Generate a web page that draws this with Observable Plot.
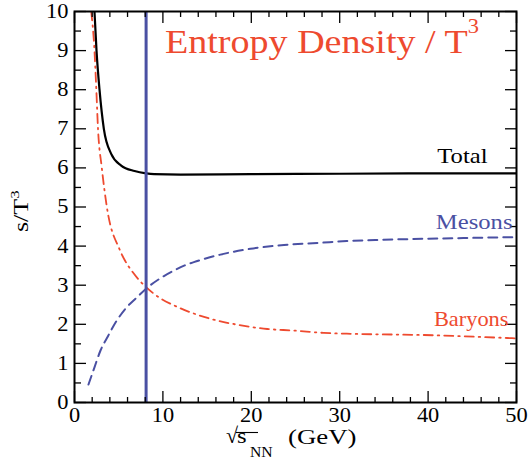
<!DOCTYPE html>
<html><head><meta charset="utf-8">
<script src="https://cdn.jsdelivr.net/npm/d3@7"></script>
<script src="https://cdn.jsdelivr.net/npm/@observablehq/plot@0.6"></script>
<style>body{margin:0;background:#fff} svg{display:block}</style>
</head><body><div id="chart"></div>
<script>
// ---- data ----
const totalX   = [2.26, 2.49, 2.83, 3.32, 4.15, 5.28, 6.79, 8.1, 9.0, 12, 20, 30, 40, 50];
const totalY   = [10.0, 9.0, 8.0, 7.0, 6.36, 6.06, 5.92, 5.86, 5.84, 5.83, 5.84, 5.85, 5.86, 5.86];
const mesonX   = [1.58, 2.26, 2.94, 3.77, 4.71, 5.85, 7.16, 8.1, 9.8, 11.3, 12.4, 13.5, 16.1, 19.9, 23.7, 27.5, 30.8, 34.6, 40, 45, 50];
const mesonY   = [0.46, 0.90, 1.33, 1.69, 2.07, 2.42, 2.71, 2.91, 3.19, 3.38, 3.50, 3.59, 3.76, 3.93, 4.03, 4.08, 4.13, 4.16, 4.19, 4.21, 4.23];
const baryonX  = [1.89, 2.26, 2.45, 2.66, 3.09, 3.66, 5.09, 5.66, 6.6, 7.35, 8.1, 9.6, 11.3, 12.4, 15.4, 18.4, 21.8, 24.8, 28.2, 30.8, 40.6, 48.9, 50];
const baryonY  = [10.0, 9.0, 8.1, 7.0, 6.0, 5.0, 3.92, 3.65, 3.33, 3.12, 2.95, 2.68, 2.48, 2.37, 2.14, 1.99, 1.88, 1.84, 1.78, 1.76, 1.72, 1.65, 1.64];
const markerX  = [8.1];
const xMajor = [0, 10, 20, 30, 40, 50];
const xMinor = d3.range(0, 51, 2).filter(v => v % 10 !== 0);
const yMajor = d3.range(0, 11, 1);
const yMinor = d3.range(0.5, 10, 1);
const seriesLabels = ["Total", "Mesons", "Baryons"];

const RED = "#ee4a2f", BLUE = "#4a50a3";
const rows = (xs, ys) => xs.map((x, i) => ({x, y: ys[i]}));
const total = rows(totalX, totalY), mesons = rows(mesonX, mesonY), baryons = rows(baryonX, baryonY);
const last = a => a[a.length - 1];

const F = "'Liberation Serif', 'Times New Roman', serif";
const tickAxes = (anchor, major, minor, isX) => {
  const ax = isX ? Plot.axisX : Plot.axisY;
  return [
    ax({anchor, ticks: major, tickSize: isX ? -11 : -12, tickFormat: () => "", label: null, strokeWidth: 1.3}),
    ax({anchor, ticks: minor, tickSize: isX ? -5 : -7, tickFormat: () => "", label: null, strokeWidth: 1.3})
  ];
};

const plot = Plot.plot({
  width: 532, height: 464,
  marginLeft: 74, marginRight: 16, marginTop: 11, marginBottom: 62,
  x: {domain: [0, 50]},
  y: {domain: [0, 10]},
  style: {fontFamily: F, background: "white", color: "black"},
  marks: [
    Plot.line(mesons, {x: "x", y: "y", stroke: BLUE, strokeWidth: 2, strokeDasharray: "9,6", curve: "monotone-x", clip: true}),
    Plot.line(baryons, {x: "x", y: "y", stroke: RED, strokeWidth: 1.8, strokeDasharray: "9,5,1.5,5", curve: "monotone-x", clip: true}),
    Plot.line(total, {x: "x", y: "y", stroke: "black", strokeWidth: 2.2, curve: "monotone-x", clip: true}),
    Plot.ruleX(markerX, {stroke: BLUE, strokeWidth: 3}),
    ...tickAxes("bottom", xMajor, xMinor, true),
    ...tickAxes("top", xMajor, xMinor, true),
    ...tickAxes("left", yMajor, yMinor, false),
    ...tickAxes("right", yMajor, yMinor, false),
    Plot.text(xMajor, {x: d => d, frameAnchor: "bottom", lineAnchor: "top", dy: 5, text: d => String(d), fontSize: 20, fontFamily: F, fill: "black"}),
    Plot.text(yMajor, {y: d => d, frameAnchor: "left", textAnchor: "end", dx: -6, text: d => String(d), fontSize: 20, fontFamily: F, fill: "black"}),
    Plot.frame({stroke: "black", strokeWidth: 2}),
    Plot.text([seriesLabels[0]], {x: last(total).x, y: last(total).y, text: d => d, textAnchor: "end", lineAnchor: "bottom", dx: -29, dy: -10, fontSize: 22, fontFamily: F, fill: "black"}),
    Plot.text([seriesLabels[1]], {x: last(mesons).x, y: last(mesons).y, text: d => d, textAnchor: "end", lineAnchor: "bottom", dx: -4, dy: -8, fontSize: 22, fontFamily: F, fill: BLUE}),
    Plot.text([seriesLabels[2]], {x: last(baryons).x, y: last(baryons).y, text: d => d, textAnchor: "end", lineAnchor: "bottom", dx: -8, dy: -12, fontSize: 20, fontFamily: F, fill: RED})
  ]
});

// stretch glyphs horizontally (reference text is wider than Times)
plot.querySelectorAll("text").forEach(t => {
  const tr = t.getAttribute("transform") || "";
  t.setAttribute("transform", tr + " scale(1.12,1)");
});

const svg = d3.select(plot);
// title
const title = svg.append("text").attr("transform", "translate(165,53) scale(1.12,1)")
  .attr("text-anchor", "start").attr("font-family", F).attr("font-size", 34).attr("fill", RED);
title.append("tspan").text("Entropy Density / T");
title.append("tspan").attr("dy", -20).attr("font-size", 20).text("3");

// y label
const yl = svg.append("text").attr("transform", "translate(28,232) rotate(-90) scale(1.3,1)")
  .attr("text-anchor", "start").attr("font-family", F).attr("font-size", 20).attr("fill", "black");
yl.append("tspan").text("s/T");
yl.append("tspan").attr("dy", -9).attr("font-size", 13).text("3");

// x label
const xl = svg.append("g").attr("font-family", F).attr("text-anchor", "start").attr("fill", "black");
xl.append("text").attr("x", 226).attr("y", 443).attr("font-size", 22).text("\u221A");
xl.append("text").attr("transform", "translate(237,443) scale(1.12,1)").attr("font-size", 22).text("s");
xl.append("line").attr("x1", 236).attr("x2", 258).attr("y1", 432.5).attr("y2", 432.5).attr("stroke", "black").attr("stroke-width", 1.1);
xl.append("text").attr("transform", "translate(250,457) scale(1.12,1)").attr("font-size", 14).text("NN");
xl.append("text").attr("transform", "translate(288,444) scale(1.22,1)").attr("font-size", 22).text("(GeV)");

document.getElementById("chart").appendChild(plot);
</script>
</body></html>
